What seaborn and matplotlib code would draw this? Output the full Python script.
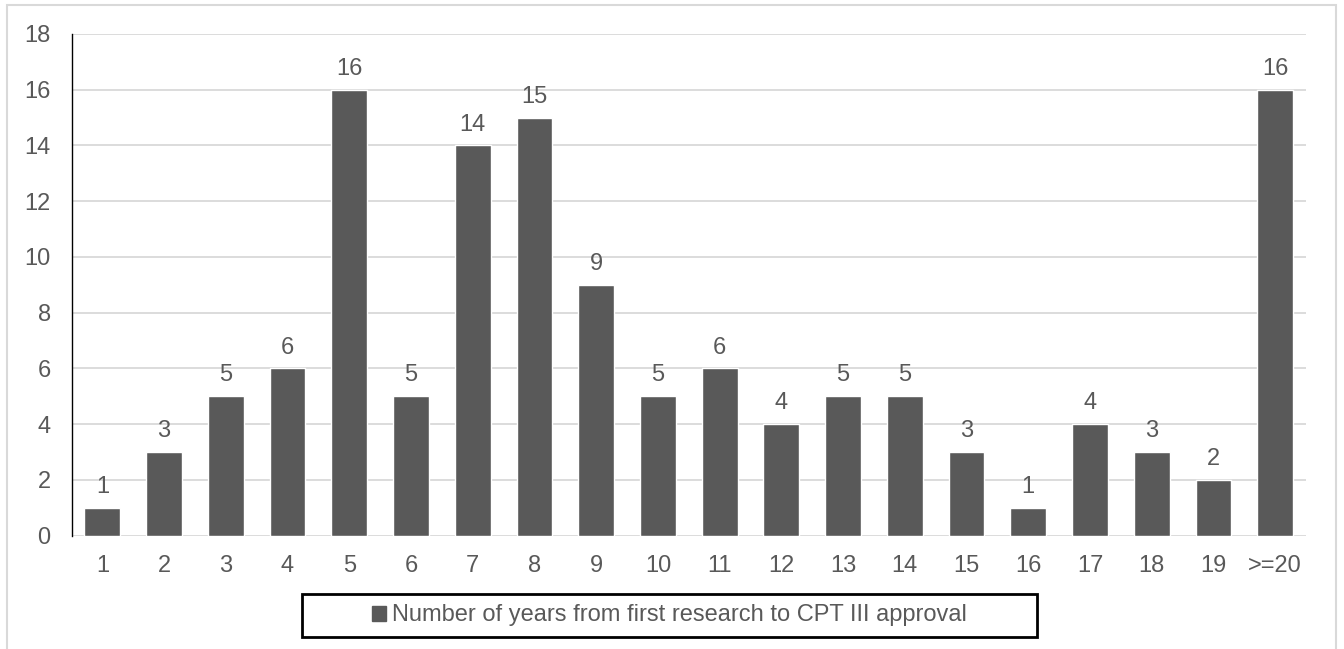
import seaborn as sns
import matplotlib.pyplot as plt
import matplotlib.patches as mpatches
import pandas as pd

# Data
years = ['1', '2', '3', '4', '5', '6', '7', '8', '9', '10',
         '11', '12', '13', '14', '15', '16', '17', '18', '19', '>=20']
counts = [1, 3, 5, 6, 16, 5, 14, 15, 9, 5,
          6, 4, 5, 5, 3, 1, 4, 3, 2, 16]
series_label = 'Number of years from first research to CPT III approval'

df = pd.DataFrame({'years': years, 'count': counts})

BAR = '#595959'
TXT = '#595959'
GRID = '#d9d9d9'
FS = 17

sns.set_style('white')
plt.rcParams['font.family'] = ['Liberation Sans', 'DejaVu Sans']

W, H = 1344, 649
fig = plt.figure(figsize=(W / 100, H / 100), dpi=100)
ax = fig.add_axes([71.5 / W, 1 - 535.5 / H, (1306 - 71.5) / W, (535.5 - 34) / H])

sns.barplot(data=df, x='years', y='count', color=BAR, width=0.58,
            saturation=1, ax=ax, zorder=3)

ax.set_ylim(0, 18)
ax.set_yticks(range(0, 19, 2))
ax.set_xlim(-0.5, len(years) - 0.5)
ax.set_xlabel('')
ax.set_ylabel('')
ax.grid(axis='y', color=GRID, linewidth=1.3, zorder=0)
for s in ['top', 'right', 'bottom']:
    ax.spines[s].set_visible(False)
ax.spines['left'].set_color('black')
ax.spines['left'].set_linewidth(1)
ax.tick_params(axis='both', length=0, labelsize=FS, colors=TXT)
ax.tick_params(axis='x', pad=14)
ax.tick_params(axis='y', pad=15)

for c in ax.containers:
    ax.bar_label(c, fmt='%d', padding=7, fontsize=FS, color=TXT)

# Legend (text + marker), with a separate box drawn around it
handle = mpatches.Patch(color=BAR, label=series_label)
leg = fig.legend(handles=[handle], loc='center left',
                 bbox_to_anchor=(372 / W, 1 - 615.5 / H),
                 frameon=False, fontsize=FS, handlelength=0.6,
                 handleheight=0.6, handletextpad=0.25, borderpad=0,
                 borderaxespad=0, labelcolor=TXT)
fig.patches.append(mpatches.Rectangle((302 / W, 1 - 637 / H), 735 / W, 43 / H,
                                      transform=fig.transFigure, fill=False,
                                      edgecolor='black', linewidth=2))

# Outer chart border
fig.patches.append(mpatches.Rectangle((7 / W, -0.02), 1329 / W, 1.02 - 5 / H,
                                      transform=fig.transFigure, fill=False,
                                      edgecolor=GRID, linewidth=1.5))

fig.savefig('out.png', dpi=100)
